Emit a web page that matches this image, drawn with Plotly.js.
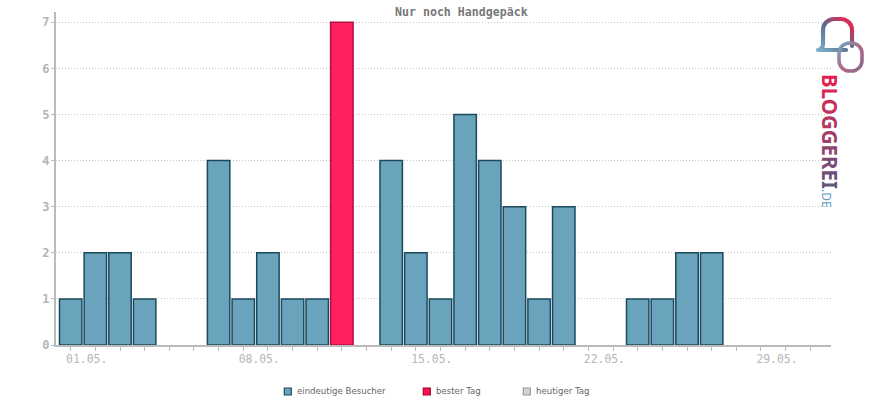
<!DOCTYPE html>
<html>
<head>
<meta charset="utf-8">
<script src="https://cdn.plot.ly/plotly-3.0.1.min.js"></script>
<style>html,body{margin:0;padding:0;background:#fff;}#chart{width:870px;height:400px;}</style>
</head>
<body>
<div id="chart"></div>
<script>
// ---- data ----
const days = [1,2,3,4,5,6,7,8,9,10,11,12,13,14,15,16,17,18,19,20,21,22,23,24,25,26,27,28,29,30,31];
const visitors = [1,2,2,1,0,0,4,1,2,1,1,7,0,4,2,1,5,4,3,1,3,0,0,1,1,2,2,0,0,0,0];
const tickLabels = {1:"01.05.", 8:"08.05.", 15:"15.05.", 22:"22.05.", 29:"29.05."};
const yTicks = [0,1,2,3,4,5,6,7];
const legendNames = ["eindeutige Besucher", "bester Tag", "heutiger Tag"];
const chartTitle = "Nur noch Handgepäck";
const logoLetters = ["B","L","O","G","G","E","R","E","I"];
const logoSuffix = ".DE";

// ---- layout helpers ----
const W = 870, H = 400, mL = 56, mR = 39, mT = 12, mB = 55;
const pw = W - mL - mR, ph = H - mT - mB;
const px = v => (v - mL) / pw;
const py = v => (H - mB - v) / ph;

const maxVal = Math.max(...visitors);
const bestIdx = visitors.indexOf(maxVal);
const blueY = visitors.map((v, i) => (i === bestIdx || v === 0 ? null : v));
const redY = visitors.map((v, i) => (i === bestIdx ? v : null));

const traces = [
  {type: "bar", x: days, y: blueY, width: 0.91, name: legendNames[0], showlegend: false,
   marker: {color: "#6aa3bc", line: {color: "#1b4a5e", width: 1.5}}, hoverinfo: "x+y"},
  {type: "bar", x: days, y: redY, width: 0.91, name: legendNames[1], showlegend: false,
   marker: {color: "#ff2060", line: {color: "#b3103d", width: 1.5}}, hoverinfo: "x+y"}
];

const axisGray = "#bbbbbb";
const shapes = [], annotations = [];

// title
annotations.push({xref: "paper", yref: "paper", x: px(461), y: py(12), xanchor: "center", yanchor: "middle",
  showarrow: false, text: "<b>" + chartTitle + "</b>",
  font: {family: "DejaVu Sans Mono", size: 11.6, color: "#777777"}});

// manual legend
const legIcons = [
  {x: 284.3, fill: "#6aa3bc", line: "#1b4a5e"},
  {x: 423.3, fill: "#ff1050", line: "#a00030"},
  {x: 523.3, fill: "#d4d4d4", line: "#999999"}
];
legIcons.forEach((ic, i) => {
  shapes.push({type: "rect", xref: "paper", yref: "paper", x0: px(ic.x), x1: px(ic.x + 7),
    y0: py(388), y1: py(395), fillcolor: ic.fill, line: {color: ic.line, width: 1.2}});
  annotations.push({xref: "paper", yref: "paper", x: px(ic.x + 11), y: py(391.5), xanchor: "left", yanchor: "middle",
    showarrow: false, text: legendNames[i], font: {family: "DejaVu Sans", size: 8.6, color: "#666666"}});
});

// logo text
const logoColors = ["#e41e4e","#d82655","#c62f5c","#b23763","#9f3e69","#8c456f","#7b4b74","#6d5078","#61557c"];
let logoText = logoLetters.map((c, i) => '<span style="color:' + logoColors[i] + '">' + c + '</span>').join("");
logoText += '<span style="color:#5a9cc2;font-size:12px;font-weight:normal">' + logoSuffix + '</span>';
annotations.push({xref: "paper", yref: "paper", x: px(830), y: py(141), xanchor: "center", yanchor: "middle",
  showarrow: false, textangle: 90, text: "<b>" + logoText + "</b>",
  font: {family: "Noto Sans", size: 20.5, color: "#c03060"}});

// logo icon as inline svg
const logoSvg = '<svg xmlns="http://www.w3.org/2000/svg" width="55" height="60" viewBox="0 0 55 60">' +
  '<defs><linearGradient id="g1" x1="0" y1="1" x2="1" y2="0">' +
  '<stop offset="0" stop-color="#7ab4c8"/><stop offset="0.5" stop-color="#5a6a8c"/><stop offset="1" stop-color="#ff1a4a"/></linearGradient>' +
  '<linearGradient id="g2" x1="0" y1="0" x2="1" y2="1">' +
  '<stop offset="0" stop-color="#6aa8c0"/><stop offset="0.5" stop-color="#b06888"/><stop offset="1" stop-color="#8a6a8a"/></linearGradient></defs>' +
  '<path d="M37,30 L37,14 A11,11 0 0 0 26,3 L19,3 A11,11 0 0 0 8,14 L8,28 Q8,33 3,34 L31,34" fill="none" stroke="url(#g1)" stroke-width="4.2" stroke-linecap="round" stroke-linejoin="round"/>' +
  '<rect x="24" y="27" width="23" height="28" rx="10.5" ry="10.5" fill="none" stroke="url(#g2)" stroke-width="3.6"/>' +
  '</svg>';
const images = [{source: "data:image/svg+xml;charset=utf-8," + encodeURIComponent(logoSvg),
  xref: "paper", yref: "paper", x: px(815), y: py(16), sizex: 55 / pw, sizey: 60 / ph,
  xanchor: "left", yanchor: "top", sizing: "stretch", layer: "above"}];

const layout = {
  width: W, height: H,
  margin: {l: mL, r: mR, t: mT, b: mB, pad: 0},
  paper_bgcolor: "#ffffff", plot_bgcolor: "#ffffff",
  barmode: "overlay",
  showlegend: false,
  xaxis: {
    range: [0.404, 31.84], tickmode: "array", tickvals: days,
    ticktext: days.map(d => tickLabels[d] || ""),
    ticks: "outside", ticklen: 4, tickwidth: 1, tickcolor: axisGray,
    showline: true, linecolor: axisGray, linewidth: 2,
    showgrid: false, zeroline: false,
    ticklabelshift: 16, ticklabelstandoff: -2,
    tickfont: {family: "DejaVu Sans Mono", size: 11.4, color: "#b5b5b5"},
    fixedrange: true
  },
  yaxis: {
    range: [0, 7.223], tickmode: "array", tickvals: yTicks,
    ticktext: yTicks.map(v => "<b>" + v + "</b>"),
    ticks: "outside", ticklen: 3, tickwidth: 1, tickcolor: axisGray,
    showline: true, linecolor: axisGray, linewidth: 2,
    showgrid: true, gridcolor: "#c4c4c4", gridwidth: 1, griddash: "1px,2px",
    zeroline: false, ticklabelstandoff: -1,
    tickfont: {family: "DejaVu Sans Mono", size: 12, color: "#b5b5b5"},
    fixedrange: true
  },
  shapes: shapes,
  annotations: annotations,
  images: images
};

Plotly.newPlot("chart", traces, layout, {displayModeBar: false, staticPlot: true});
</script>
</body>
</html>
